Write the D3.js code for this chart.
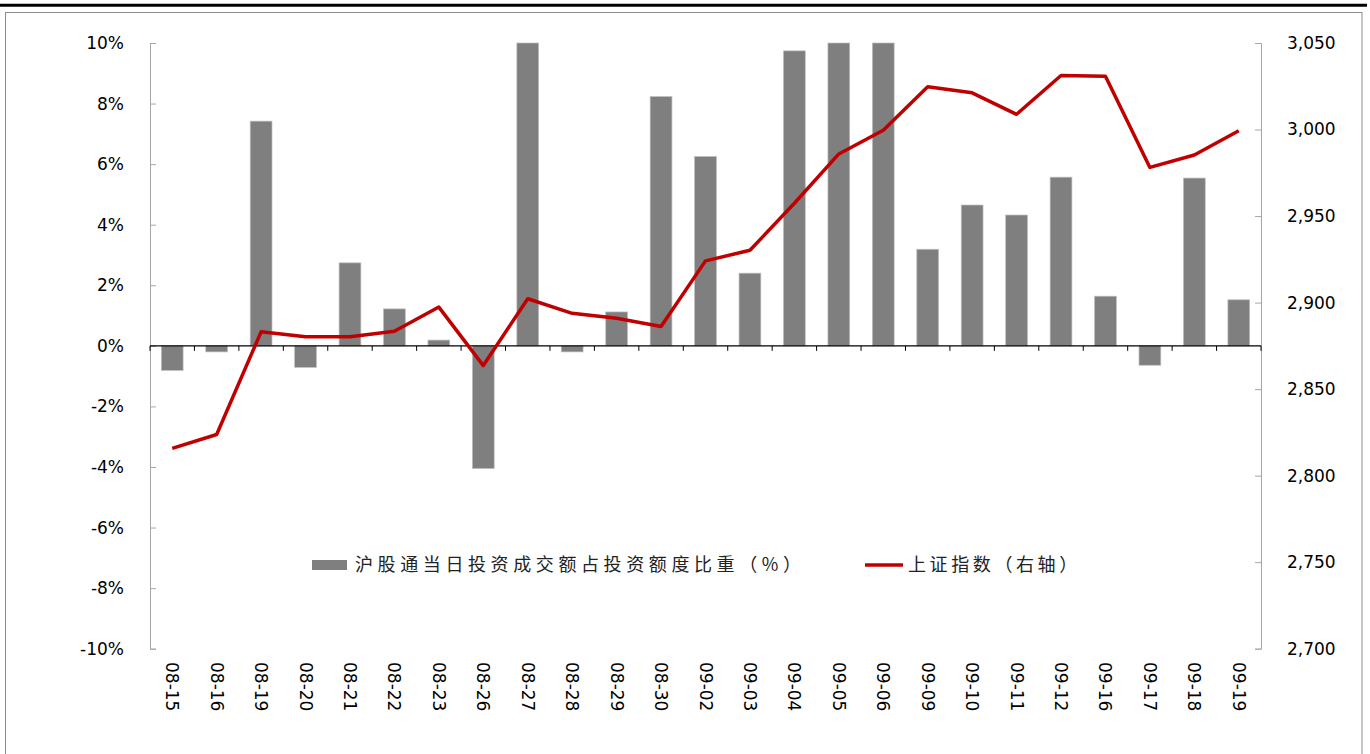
<!DOCTYPE html>
<html>
<head>
<meta charset="utf-8">
<script src="https://cdn.jsdelivr.net/npm/d3@7"></script>
<style>
  body { margin: 0; background: #fff; }
  svg { display: block; }
</style>
</head>
<body>
<div class="visHolder"></div>
<script>
// Dates on the x axis
const dates = ["08-15", "08-16", "08-19", "08-20", "08-21", "08-22", "08-23", "08-26", "08-27", "08-28",
  "08-29", "08-30", "09-02", "09-03", "09-04", "09-05", "09-06", "09-09", "09-10", "09-11",
  "09-12", "09-16", "09-17", "09-18", "09-19"];

// 沪股通当日投资成交额占投资额度比重 (%)
const ratio = [-0.81, -0.2, 7.42, -0.71, 2.74, 1.22, 0.19, -4.05, 10.0, -0.2,
  1.12, 8.23, 6.25, 2.4, 9.74, 10.0, 10.0, 3.19, 4.65, 4.32,
  5.57, 1.64, -0.64, 5.54, 1.52];

// 上证指数 (right axis)
const index = [2815.8, 2823.8, 2883.1, 2880.3, 2880.3, 2883.4, 2897.4, 2863.6, 2902.2, 2893.8,
  2890.9, 2886.2, 2924.1, 2930.2, 2957.4, 2985.9, 2999.6, 3024.7, 3021.2, 3008.8,
  3031.2, 3030.8, 2978.1, 2985.3, 2999.3];

const leftTicks = [-10, -8, -6, -4, -2, 0, 2, 4, 6, 8, 10];
const rightTicks = [2700, 2750, 2800, 2850, 2900, 2950, 3000, 3050];

const seriesNames = ["沪股通当日投资成交额占投资额度比重（%）", "上证指数（右轴）"];

const width = 1370, height = 754;
const plot = {left: 150, right: 1261, top: 43, bottom: 648.7};

const svg = d3.select(".visHolder").append("svg")
    .attr("width", width)
    .attr("height", height);

// frame
svg.append("line")
    .attr("x1", 0).attr("x2", 1367).attr("y1", 5.3).attr("y2", 5.3)
    .attr("stroke", "#000").attr("stroke-width", 3);
svg.append("rect")
    .attr("x", 5.5).attr("y", 12.5).attr("width", 1356.5).attr("height", 760)
    .attr("fill", "none").attr("stroke", "#8c8c8c").attr("stroke-width", 1);

// scales
const pad = 0.51;
const x = d3.scaleBand().domain(dates).range([plot.left, plot.right])
    .paddingInner(pad).paddingOuter(pad / 2);
const yL = d3.scaleLinear().domain([-10, 10]).range([plot.bottom, plot.top]);
const yR = d3.scaleLinear().domain([2700, 3050]).range([plot.bottom, plot.top]);

const font = "'DejaVu Sans', Verdana, sans-serif";

// left axis
const leftAxis = svg.append("g")
    .attr("transform", "translate(" + plot.left + ",0)")
    .call(d3.axisLeft(yL).tickValues(leftTicks).tickSize(-6).tickPadding(26)
      .tickFormat(d => d + "%"));
leftAxis.select(".domain").attr("stroke", "#a6a6a6");
leftAxis.selectAll(".tick line").attr("stroke", "#a6a6a6");
leftAxis.selectAll("text").style("font-family", font).style("font-size", "17px").attr("fill", "#000");

// right axis
const rightAxis = svg.append("g")
    .attr("transform", "translate(" + plot.right + ",0)")
    .call(d3.axisRight(yR).tickValues(rightTicks).tickSize(-6).tickPadding(26)
      .tickFormat(d3.format(",")));
rightAxis.select(".domain").attr("stroke", "#a6a6a6");
rightAxis.selectAll(".tick line").attr("stroke", "#a6a6a6");
rightAxis.selectAll("text").style("font-family", font).style("font-size", "17px").attr("fill", "#000");

// bars
svg.selectAll(".bar")
    .data(dates)
  .enter().append("rect")
    .attr("class", "bar")
    .attr("x", d => x(d))
    .attr("width", x.bandwidth())
    .attr("y", (d, i) => yL(Math.max(0, ratio[i])))
    .attr("height", (d, i) => Math.abs(yL(ratio[i]) - yL(0)))
    .attr("fill", "#7f7f7f")
    .attr("stroke", "#bdbdbd")
    .attr("stroke-width", 0.7);

// zero axis with category ticks
const step = x.step();
const bounds = dates.map(d => x(d) - step * pad / 2).concat([plot.right]);
svg.append("line")
    .attr("x1", plot.left).attr("x2", plot.right)
    .attr("y1", yL(0)).attr("y2", yL(0))
    .attr("stroke", "#000").attr("stroke-width", 1.3);
svg.selectAll(".xtick")
    .data(bounds)
  .enter().append("line")
    .attr("class", "xtick")
    .attr("x1", d => d).attr("x2", d => d)
    .attr("y1", yL(0)).attr("y2", yL(0) + 5)
    .attr("stroke", "#000").attr("stroke-width", 1);

// x labels (rotated)
svg.selectAll(".xlabel")
    .data(dates)
  .enter().append("text")
    .attr("class", "xlabel")
    .attr("transform", d => "translate(" + (x(d) + x.bandwidth() / 2 - 6) + ",662) rotate(90)")
    .attr("text-anchor", "start")
    .style("font-family", font)
    .style("font-size", "17px")
    .text(d => d);

// index line
const line = d3.line()
    .x((d, i) => x(dates[i]) + x.bandwidth() / 2)
    .y(d => yR(d));
svg.append("path")
    .datum(index)
    .attr("d", line)
    .attr("fill", "none")
    .attr("stroke", "#c00000")
    .attr("stroke-width", 3.5)
    .attr("stroke-linejoin", "round");

// legend
const cjk = "'Noto Sans CJK SC', sans-serif";
svg.append("rect")
    .attr("x", 312).attr("y", 560).attr("width", 35).attr("height", 10)
    .attr("fill", "#7f7f7f");
svg.append("text")
    .attr("x", 355).attr("y", 571)
    .style("font-family", cjk).style("font-size", "18px").style("letter-spacing", "4.6px")
    .attr("fill", "#222")
    .text(seriesNames[0]);
svg.append("line")
    .attr("x1", 865).attr("x2", 903).attr("y1", 565).attr("y2", 565)
    .attr("stroke", "#c00000").attr("stroke-width", 3.5);
svg.append("text")
    .attr("x", 908).attr("y", 571)
    .style("font-family", cjk).style("font-size", "18px").style("letter-spacing", "3.6px")
    .attr("fill", "#222")
    .text(seriesNames[1]);
</script>
</body>
</html>
